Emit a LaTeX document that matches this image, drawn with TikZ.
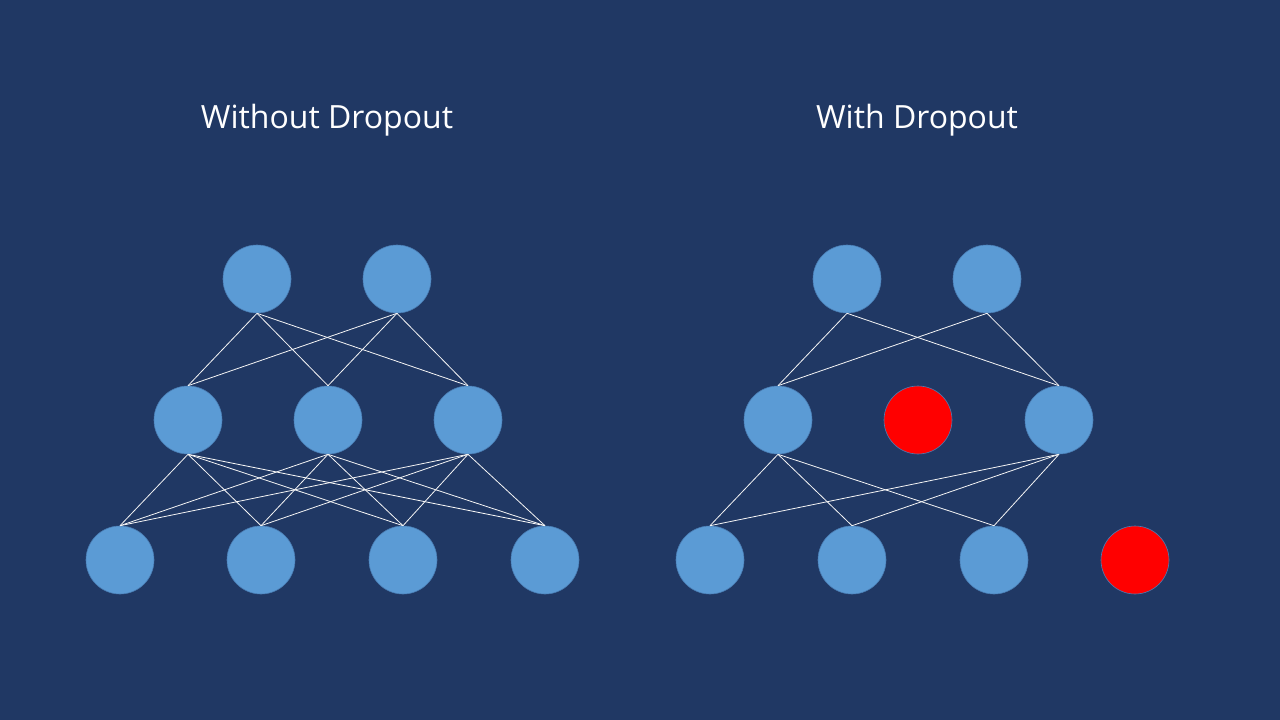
\documentclass[tikz,border=0pt]{standalone}
\usepackage{fontspec}
\setmainfont{Open Sans}
\definecolor{bgblue}{HTML}{203864}
\definecolor{nodeblue}{HTML}{5B9BD5}
\definecolor{nodeedge}{HTML}{4A7EB5}
\definecolor{dropred}{HTML}{FF0000}
\begin{document}
\begin{tikzpicture}[x=1pt,y=-1pt,
  neuron/.style={circle,minimum size=68pt,inner sep=0pt,fill=nodeblue,draw=nodeedge,line width=0.6pt},
  dropped/.style={circle,minimum size=68pt,inner sep=0pt,fill=dropred,draw=nodeedge,line width=0.6pt},
  link/.style={draw=white!92!gray,line width=0.8pt},
  title/.style={text=white,anchor=base,inner sep=0pt,font=\fontsize{32}{38}\selectfont}]
\fill[bgblue] (0,0) rectangle (1280,720);
\useasboundingbox (0,0) rectangle (1280,720);
% titles
\node[title] (t1) at (327,128) {Without Dropout};
\node[title] (t2) at (917,128) {With Dropout};
% left network
\node[neuron] (a1) at (257,279) {};
\node[neuron] (a2) at (397,279) {};
\node[neuron] (b1) at (188,420) {};
\node[neuron] (b2) at (328,420) {};
\node[neuron] (b3) at (468,420) {};
\node[neuron] (c1) at (120,560) {};
\node[neuron] (c2) at (261,560) {};
\node[neuron] (c3) at (403,560) {};
\node[neuron] (c4) at (545,560) {};
\foreach \u in {a1,a2}{\foreach \v in {b1,b2,b3}{\draw[link] (\u.south) -- (\v.north);}}
\foreach \u in {b1,b2,b3}{\foreach \v in {c1,c2,c3,c4}{\draw[link] (\u.south) -- (\v.north);}}
% right network
\node[neuron] (d1) at (847,279) {};
\node[neuron] (d2) at (987,279) {};
\node[neuron] (e1) at (778,420) {};
\node[dropped] (e2) at (918,420) {};
\node[neuron] (e3) at (1059,420) {};
\node[neuron] (f1) at (710,560) {};
\node[neuron] (f2) at (852,560) {};
\node[neuron] (f3) at (994,560) {};
\node[dropped] (f4) at (1135,560) {};
\foreach \u in {d1,d2}{\foreach \v in {e1,e3}{\draw[link] (\u.south) -- (\v.north);}}
\foreach \u in {e1,e3}{\foreach \v in {f1,f2,f3}{\draw[link] (\u.south) -- (\v.north);}}
\end{tikzpicture}
\end{document}
